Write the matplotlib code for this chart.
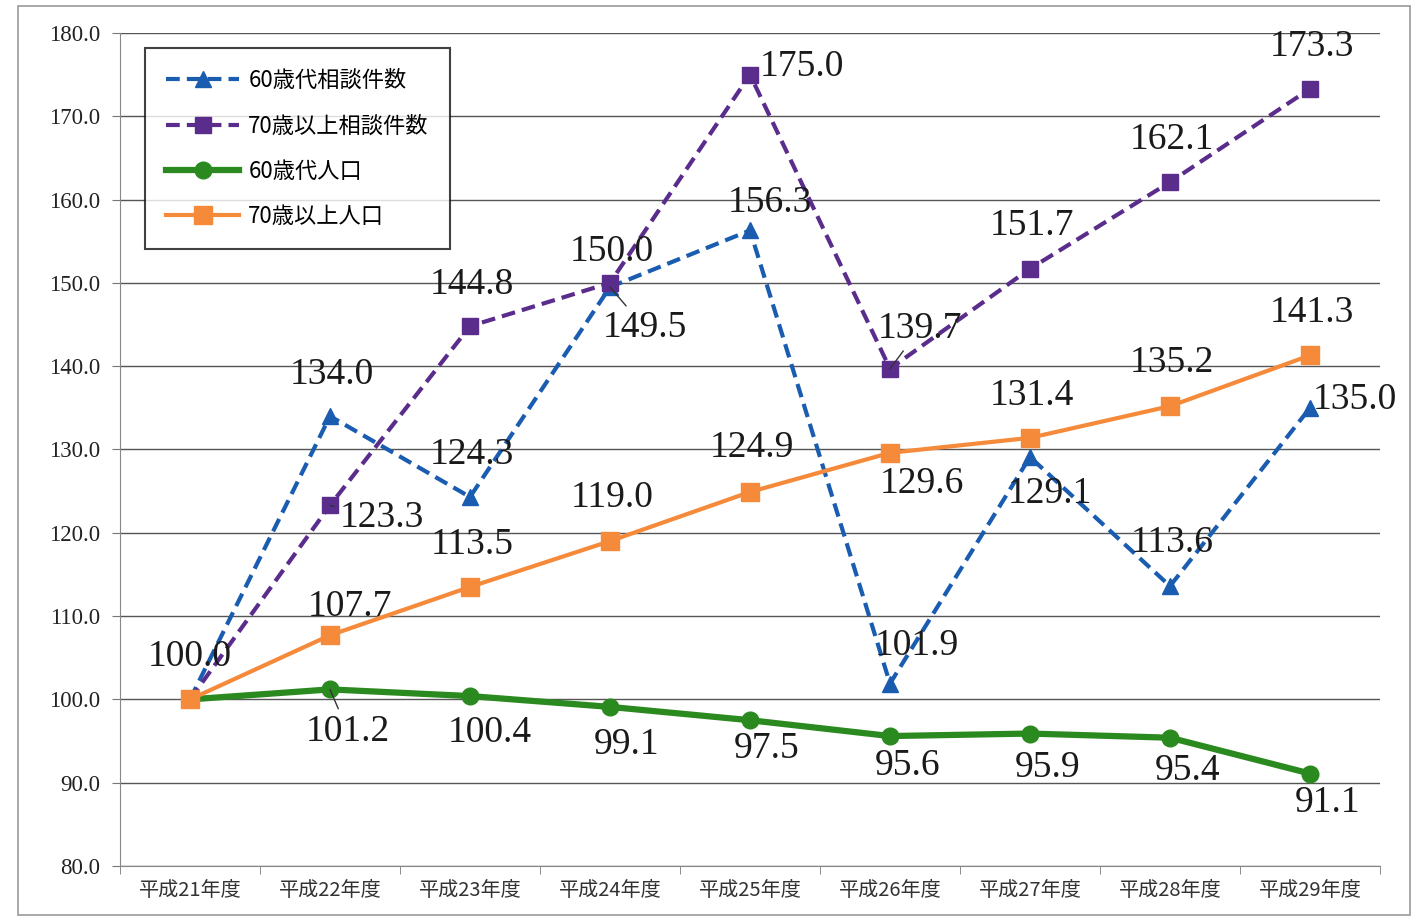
import matplotlib.pyplot as plt
from matplotlib.patches import Rectangle

# data (index, 平成21年度 = 100)
years = ["平成21年度", "平成22年度", "平成23年度", "平成24年度", "平成25年度",
         "平成26年度", "平成27年度", "平成28年度", "平成29年度"]
soudan_60 = [100.0, 134.0, 124.3, 149.5, 156.3, 101.9, 129.1, 113.6, 135.0]
soudan_70 = [100.0, 123.3, 144.8, 150.0, 175.0, 139.7, 151.7, 162.1, 173.3]
jinkou_60 = [100.0, 101.2, 100.4, 99.1, 97.5, 95.6, 95.9, 95.4, 91.1]
jinkou_70 = [100.0, 107.7, 113.5, 119.0, 124.9, 129.6, 131.4, 135.2, 141.3]
names = ["60歳代相談件数", "70歳以上相談件数", "60歳代人口", "70歳以上人口"]

SERIF = ["Liberation Serif", "Noto Sans CJK JP"]
JP = ["Noto Sans CJK JP", "DejaVu Sans"]

# label offsets in pixels (dx, dy), None = no label, 3rd item = leader line
off_60s = [None, (2, 41), (2, 42), (35, -41, 1), (20, 28), (27, 38), (20, -37), (2, 43), (45, 8)]
off_70s = [None, (52, -12, 1), (2, 41), (2, 31), (52, 8), (30, 40, 1), (2, 43), (2, 42), (2, 42)]
off_60p = [None, (18, -42, 1), (20, -37), (17, -38), (17, -29), (18, -30), (18, -34), (18, -33), (18, -29)]
off_70p = [(0, 43), (20, 29), (2, 42), (2, 43), (2, 44), (32, -31), (2, 42), (2, 43), (2, 43)]

fig = plt.figure(figsize=(14.21, 9.21), dpi=100)
ax = fig.add_axes([120 / 1421, 55 / 921, 1260 / 1421, 833 / 921])

# outer frame of the chart area
fig.patches.append(Rectangle((18 / 1421, 6 / 921), 1392 / 1421, 909 / 921,
                             transform=fig.transFigure, fill=False,
                             edgecolor="#9a9a9a", linewidth=1.2))

x = list(range(len(years)))

ax.plot(x, soudan_60, color="#1a5cb0", linestyle=(0, (3.3, 1.7)), linewidth=3,
        marker="^", markersize=11, label=names[0], zorder=3)
ax.plot(x, soudan_70, color="#5a2c8c", linestyle=(0, (3.3, 1.7)), linewidth=3,
        marker="s", markersize=12, label=names[1], zorder=3)
ax.plot(x, jinkou_60, color="#2b8a1f", linewidth=4.5,
        marker="o", markersize=12, label=names[2], zorder=4)
ax.plot(x, jinkou_70, color="#f58a3a", linewidth=3,
        marker="s", markersize=13, label=names[3], zorder=4)


def put_labels(vals, offs):
    for i, (v, o) in enumerate(zip(vals, offs)):
        if o is None:
            continue
        kw = {}
        if len(o) > 2:
            kw["arrowprops"] = dict(arrowstyle="-", color="#333333", lw=1,
                                    shrinkA=2, shrinkB=0)
        ax.annotate(f"{v:.1f}", xy=(i, v), xytext=(o[0], o[1]),
                    textcoords="offset pixels", ha="center", va="center",
                    fontsize=27, family=SERIF, color="#1a1a1a", zorder=6, **kw)


put_labels(soudan_60, off_60s)
put_labels(soudan_70, off_70s)
put_labels(jinkou_60, off_60p)
put_labels(jinkou_70, off_70p)

ax.set_xlim(-0.5, len(years) - 0.5)
ax.set_ylim(80, 180)
ax.set_yticks(range(80, 181, 10))
ax.set_yticklabels([f"{t:.1f}" for t in range(80, 181, 10)], family=SERIF,
                   fontsize=16.5, color="#222222")
ax.set_xticks(x)
ax.set_xticklabels(years, family=JP, fontsize=14.5, color="#333333")
ax.set_xticks([i + 0.5 for i in range(-1, len(years))], minor=True)
ax.tick_params(axis="x", which="major", length=0, pad=10)
ax.tick_params(axis="x", which="minor", length=6, color="#777777")
ax.tick_params(axis="y", length=6, color="#777777", pad=8)

ax.grid(axis="y", color="#555555", linewidth=1)
ax.set_axisbelow(True)
for side in ["top", "right"]:
    ax.spines[side].set_visible(False)
ax.spines["left"].set_color("#888888")
ax.spines["bottom"].set_color("#888888")

leg = ax.legend(loc="upper left", bbox_to_anchor=(25 / 1260, 818 / 833),
                prop={"family": JP, "size": 16}, frameon=True, fancybox=False,
                edgecolor="#111111", handlelength=3.3, labelspacing=1.0,
                borderpad=0.95, handletextpad=0.4, borderaxespad=0)
leg.get_frame().set_linewidth(1.5)
leg.set_zorder(5)

fig.savefig("out.png", dpi=100)
